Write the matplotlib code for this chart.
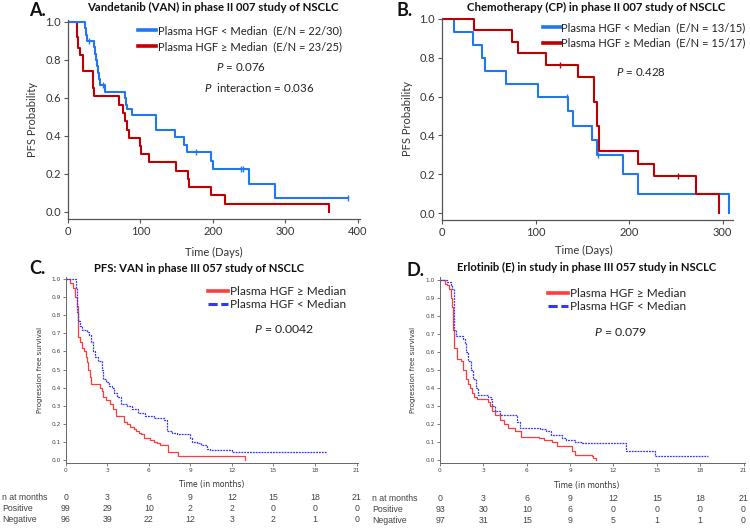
import numpy as np
import matplotlib
matplotlib.use('Agg')
import matplotlib.pyplot as plt
import matplotlib.transforms as mtrans
from matplotlib.lines import Line2D

plt.rcParams['font.family'] = ['Lato', 'DejaVu Sans']
plt.rcParams['mathtext.fontset'] = 'custom'
plt.rcParams['mathtext.it'] = 'Lato:italic'
plt.rcParams['mathtext.rm'] = 'Lato'

# ---- panel A: vandetanib, phase II 007 (days) ----
a_lo_t = [0, 23, 24.5, 26, 35.5, 37, 38.5, 40, 41.5, 43, 44.5, 50.5, 78, 79.5, 82, 89,
          122, 147, 160, 164, 197, 200, 250, 286]
a_lo_s = [1.0, 0.967, 0.933, 0.9, 0.867, 0.833, 0.8, 0.767, 0.733, 0.7, 0.667, 0.632,
          0.598, 0.565, 0.54, 0.512, 0.432, 0.393, 0.353, 0.315, 0.27, 0.225, 0.147, 0.073]
a_lo_end = 387
a_lo_cens = [28.6, 48, 176, 239, 241, 387]
a_hi_t = [0, 12, 13.5, 16, 20.5, 34, 36, 70.5, 75.5, 78, 81, 84, 100, 101, 112, 149,
          166, 167.5, 198, 216, 360]
a_hi_s = [1.0, 0.92, 0.865, 0.825, 0.74, 0.655, 0.608, 0.565, 0.52, 0.478, 0.432, 0.39,
          0.345, 0.305, 0.262, 0.217, 0.172, 0.13, 0.087, 0.043, 0.0]
a_hi_end = 360

# ---- panel B: chemotherapy, phase II 007 (days) ----
b_lo_t = [0, 13, 33, 43, 45.7, 68, 103, 135, 139.5, 160, 166, 193.6, 209, 307]
b_lo_s = [1.0, 0.933, 0.867, 0.8, 0.733, 0.667, 0.6, 0.525, 0.45, 0.375, 0.3, 0.2, 0.1, 0.0]
b_lo_end = 307
b_lo_cens = [133.5, 167]
b_hi_t = [0, 34.3, 74.7, 81, 111, 145, 162, 166, 168, 209.5, 227, 271, 296]
b_hi_s = [1.0, 0.941, 0.882, 0.824, 0.765, 0.702, 0.574, 0.447, 0.319, 0.255, 0.191, 0.096, 0.0]
b_hi_end = 296
b_hi_cens = [126, 252]

# ---- panel C: VAN, phase III 057 (months) ----
c_hi_t = [0, 0.3, 0.55, 0.7, 0.84, 0.9, 1.05, 1.2, 1.35, 1.47, 1.55, 1.64, 1.72, 1.8,
          2.48, 2.6, 2.72, 2.9, 3.2, 3.4, 3.64, 4.2, 4.4, 4.65, 4.9, 5.1, 5.3, 5.45, 5.66,
          6.1, 6.4, 6.58, 6.8, 7.42, 8.14, 12.96]
c_hi_s = [1.0, 0.98, 0.95, 0.9, 0.85, 0.68, 0.65, 0.62, 0.6, 0.57, 0.54, 0.5, 0.46, 0.42,
          0.4, 0.38, 0.35, 0.33, 0.31, 0.28, 0.24, 0.21, 0.2, 0.18, 0.17, 0.16, 0.15, 0.14,
          0.12, 0.11, 0.1, 0.09, 0.08, 0.04, 0.02, 0.0]
c_hi_end = 12.96
c_lo_t = [0, 0.75, 0.8, 0.85, 0.92, 1.05, 1.16, 1.57, 1.71, 1.85, 1.95, 2.12, 2.35, 2.6,
          2.72, 2.92, 3.15, 3.33, 3.5, 3.69, 3.98, 4.4, 4.77, 5.25, 5.73, 6.34, 7.06, 7.3,
          7.66, 8.0, 9.0, 9.1, 9.47, 9.8, 10.2, 10.43, 12.0]
c_lo_s = [1.0, 0.95, 0.9, 0.82, 0.77, 0.74, 0.72, 0.71, 0.69, 0.65, 0.6, 0.57, 0.55, 0.5,
          0.45, 0.43, 0.41, 0.4, 0.37, 0.35, 0.31, 0.3, 0.28, 0.26, 0.24, 0.23, 0.22, 0.16,
          0.15, 0.14, 0.12, 0.1, 0.09, 0.08, 0.06, 0.054, 0.04]
c_lo_end = 18.87

# ---- panel D: erlotinib, phase III 057 (months) ----
d_hi_t = [0, 0.35, 0.5, 0.62, 0.75, 0.86, 0.9, 0.99, 1.16, 1.46, 1.62, 1.78, 1.92, 2.05,
          2.2, 2.38, 2.54, 3.35, 3.45, 3.58, 3.82, 4.16, 4.4, 4.7, 5.2, 5.6, 6.82, 7.2,
          7.75, 8.1, 9.13, 9.37, 10.5, 10.6, 10.82]
d_hi_s = [1.0, 0.98, 0.97, 0.95, 0.9, 0.85, 0.72, 0.62, 0.56, 0.55, 0.5, 0.45, 0.42, 0.4,
          0.37, 0.35, 0.34, 0.32, 0.3, 0.27, 0.25, 0.22, 0.2, 0.18, 0.16, 0.13, 0.12, 0.11,
          0.1, 0.08, 0.05, 0.03, 0.025, 0.01, 0.0]
d_hi_end = 10.82
d_lo_t = [0, 0.5, 0.76, 0.85, 0.97, 1.09, 1.62, 1.7, 1.8, 1.95, 2.15, 2.3, 2.5, 2.66,
          3.35, 3.5, 3.63, 3.82, 4.16, 5.32, 5.55, 6.94, 7.3, 7.68, 8.44, 8.7, 9.37, 9.8,
          12.88, 14.87]
d_lo_s = [1.0, 0.99, 0.97, 0.95, 0.72, 0.69, 0.67, 0.65, 0.6, 0.55, 0.5, 0.45, 0.4, 0.36,
          0.35, 0.34, 0.3, 0.27, 0.25, 0.21, 0.18, 0.17, 0.16, 0.14, 0.12, 0.11, 0.1, 0.095,
          0.048, 0.02]
d_lo_end = 18.57

# numbers at risk
risk_months = [0, 3, 6, 9, 12, 15, 18, 21]
c_pos = [99, 29, 10, 2, 2, 0, 0, 0]
c_neg = [96, 39, 22, 12, 3, 2, 1, 0]
d_pos = [93, 30, 10, 6, 0, 0, 0, 0]
d_neg = [97, 31, 15, 9, 5, 1, 1, 0]

BLUE = '#1f78f0'
DRED = '#c00000'
RED = '#ff3c3c'
DBLUE = '#3434ff'
W, H = 750, 529


def rect(l, t, r, b):
    return [l / W, 1 - b / H, (r - l) / W, (b - t) / H]


def fy(y):
    return 1 - y / H


def step_at(t, s, x):
    i = np.searchsorted(t, x, side='right') - 1
    return np.asarray(s)[i]


def km(ax, t, s, t_end, color, lw=1.5, ls='-', cens=None):
    ax.step(list(t) + [t_end], list(s) + [s[-1]], where='post', color=color, lw=lw, ls=ls)
    if cens:
        ax.plot(cens, step_at(t, s, cens), ls='none', marker='|', color=color, ms=4, mew=1)


fig = plt.figure(figsize=(7.5, 5.29), dpi=100)


def style_top(ax):
    for sp in ['top', 'right']:
        ax.spines[sp].set_visible(False)
    for sp in ['left', 'bottom']:
        ax.spines[sp].set_color('#555555')
        ax.spines[sp].set_linewidth(0.9)
    ax.set_yticks(np.arange(0, 1.01, 0.2))
    ax.yaxis.set_major_formatter('{x:.1f}')
    ax.tick_params(direction='out', length=3, width=0.8, labelsize=8, colors='#555555',
                   labelcolor='#333333', pad=2)


def style_bottom(ax):
    for sp in ['top', 'right']:
        ax.spines[sp].set_visible(False)
    for sp in ['left', 'bottom']:
        ax.spines[sp].set_color('#666666')
        ax.spines[sp].set_linewidth(0.7)
    ax.set_xlim(0, 21.1)
    ax.set_xticks(risk_months)
    ax.set_yticks(np.arange(0, 1.01, 0.1))
    ax.yaxis.set_major_formatter('{x:.1f}')
    ax.tick_params(direction='out', length=2, width=0.6, labelsize=4.2, colors='#666666',
                   labelcolor='#444444', pad=1.5)
    for lab in ax.get_xticklabels() + ax.get_yticklabels():
        lab.set_family('DejaVu Sans')


# ---------- A ----------
axA = fig.add_axes(rect(68, 20, 360, 219))
style_top(axA)
axA.set_xlim(0, 403)
axA.set_ylim(-0.037, 1.0105)
axA.set_xticks([0, 100, 200, 300, 400])
km(axA, a_hi_t, a_hi_s, a_hi_end, DRED)
km(axA, a_lo_t, a_lo_s, a_lo_end, BLUE, cens=a_lo_cens)
axA.set_xlabel('Time (Days)', fontsize=8, color='#333333')
axA.xaxis.set_label_coords(0.5, -0.141)
axA.set_ylabel('PFS Probability', fontsize=8, color='#333333')
axA.yaxis.set_label_coords(-0.103, 0.5)
hA = [Line2D([], [], color=BLUE, lw=2.6), Line2D([], [], color=DRED, lw=2.6)]
axA.legend(hA, ['Plasma HGF < Median  (E/N = 22/30)', 'Plasma HGF \u2265 Median  (E/N = 23/25)'],
           loc='upper left', bbox_to_anchor=(138 / W, fy(25.3)), bbox_transform=fig.transFigure,
           frameon=False, fontsize=8, handlelength=1.6, handletextpad=0.2, borderpad=0,
           borderaxespad=0, labelspacing=0.45, labelcolor='#222222')
fig.text(241 / W, fy(67), '$P$ = 0.076', fontsize=8.3, ha='center', va='center', color='#222222')
fig.text(259 / W, fy(88), '$P$  interaction = 0.036', fontsize=8.3, ha='center', va='center',
         color='#222222')
fig.text(29 / W, fy(11), 'A.', fontsize=13, weight='bold', va='center', color='#111111')
fig.text(213 / W, fy(7), 'Vandetanib (VAN) in phase II 007 study of NSCLC', fontsize=8.2,
         weight='bold', ha='center', va='center', color='#111111')

# ---------- B ----------
axB = fig.add_axes(rect(442, 18, 733, 220))
style_top(axB)
axB.set_xlim(0, 311)
axB.set_ylim(-0.036, 1.005)
axB.set_xticks([0, 100, 200, 300])
km(axB, b_lo_t, b_lo_s, b_lo_end, BLUE, cens=b_lo_cens)
km(axB, b_hi_t, b_hi_s, b_hi_end, DRED, cens=b_hi_cens)
axB.set_xlabel('Time (Days)', fontsize=8, color='#333333')
axB.xaxis.set_label_coords(0.488, -0.124)
axB.set_ylabel('PFS Probability', fontsize=8, color='#333333')
axB.yaxis.set_label_coords(-0.1, 0.5)
hB = [Line2D([], [], color=BLUE, lw=2.6), Line2D([], [], color=DRED, lw=2.6)]
axB.legend(hB, ['Plasma HGF < Median  (E/N = 13/15)', 'Plasma HGF \u2265 Median  (E/N = 15/17)'],
           loc='upper left', bbox_to_anchor=(543 / W, fy(22.3)), bbox_transform=fig.transFigure,
           frameon=False, fontsize=8, handlelength=1.6, handletextpad=0.05, borderpad=0,
           borderaxespad=0, labelspacing=0.4, labelcolor='#222222')
fig.text(641 / W, fy(72), '$P$ = 0.428', fontsize=8.3, ha='center', va='center', color='#222222')
fig.text(396 / W, fy(11), 'B.', fontsize=13, weight='bold', va='center', color='#111111')
fig.text(596 / W, fy(7), 'Chemotherapy (CP) in phase II 007 study of NSCLC', fontsize=8.2,
         weight='bold', ha='center', va='center', color='#111111')

# ---------- C ----------
axC = fig.add_axes(rect(65.7, 277, 358, 463.3))
style_bottom(axC)
axC.set_ylim(-0.02, 1.013)
km(axC, c_hi_t, c_hi_s, c_hi_end, RED, lw=0.9)
km(axC, c_lo_t, c_lo_s, c_lo_end, DBLUE, lw=0.9, ls=(0, (1.5, 0.8)))
axC.set_xlabel('Time (in months)', fontsize=5.5, color='#333333', family='DejaVu Sans')
axC.xaxis.set_label_coords(0.5, -0.09)
axC.set_ylabel('Progression free survival', fontsize=5, color='#333333', family='DejaVu Sans')
axC.yaxis.set_label_coords(-0.078, 0.5)

# ---------- D ----------
axD = fig.add_axes(rect(440, 277, 745, 463.3))
style_bottom(axD)
axD.set_ylim(-0.018, 1.017)
km(axD, d_hi_t, d_hi_s, d_hi_end, RED, lw=0.9)
km(axD, d_lo_t, d_lo_s, d_lo_end, DBLUE, lw=0.9, ls=(0, (1.5, 0.8)))
axD.set_xlabel('Time (in months)', fontsize=5.5, color='#333333', family='DejaVu Sans')
axD.xaxis.set_label_coords(0.48, -0.095)
axD.set_ylabel('Progression free survival', fontsize=5, color='#333333', family='DejaVu Sans')
axD.yaxis.set_label_coords(-0.08, 0.5)

for ax, lx, ly, ptxt, px, py, letter, lpos, title, tpos, pos, neg, rx, rows in [
        (axC, 208, 285.7, '$P$ = 0.0042', 284, 329, 'C.', (29, 269),
         'PFS: VAN in phase III 057 study of NSCLC', (199, 268), c_pos, c_neg, 2,
         (497.7, 508.3, 520)),
        (axD, 548, 288, '$P$ = 0.079', 620, 332, 'D.', (406, 271),
         'Erlotinib (E) in study in phase III 057 study in NSCLC', (587, 267), d_pos, d_neg, 372,
         (498.3, 509.3, 520.7))]:
    hh = [Line2D([], [], color=RED, lw=2.6),
          Line2D([], [], color=DBLUE, lw=2.2, ls=(0, (3, 1.2, 3, 1.2, 1, 1.2)))]
    ax.legend(hh, ['Plasma HGF \u2265 Median', 'Plasma HGF < Median'], loc='upper left',
              bbox_to_anchor=(lx / W, fy(ly)), bbox_transform=fig.transFigure, frameon=False,
              fontsize=8.5, handlelength=1.7, handletextpad=0.2, borderpad=0, borderaxespad=0,
              labelspacing=0.2, labelcolor='#222222')
    fig.text(px / W, fy(py), ptxt, fontsize=8.8, ha='center', va='center', color='#222222')
    fig.text(lpos[0] / W, fy(lpos[1]), letter, fontsize=13, weight='bold', va='center',
             color='#111111')
    fig.text(tpos[0] / W, fy(tpos[1]), title, fontsize=8.1, weight='bold', ha='center',
             va='center', color='#111111')
    # numbers at risk table
    tr = mtrans.blended_transform_factory(ax.transData, fig.transFigure)
    for lab, vals, yy in [('n at months', risk_months, rows[0]), ('Positive', pos, rows[1]),
                          ('Negative', neg, rows[2])]:
        fig.text(rx / W, fy(yy), lab, fontsize=6.3, va='center', color='#444444',
                 family='Liberation Sans')
        for m, v in zip(risk_months, vals):
            ax.text(m, fy(yy), str(v), transform=tr, fontsize=6.3, ha='center', va='center',
                    color='#444444', family='Liberation Sans')

fig.savefig('out.png', dpi=100)
